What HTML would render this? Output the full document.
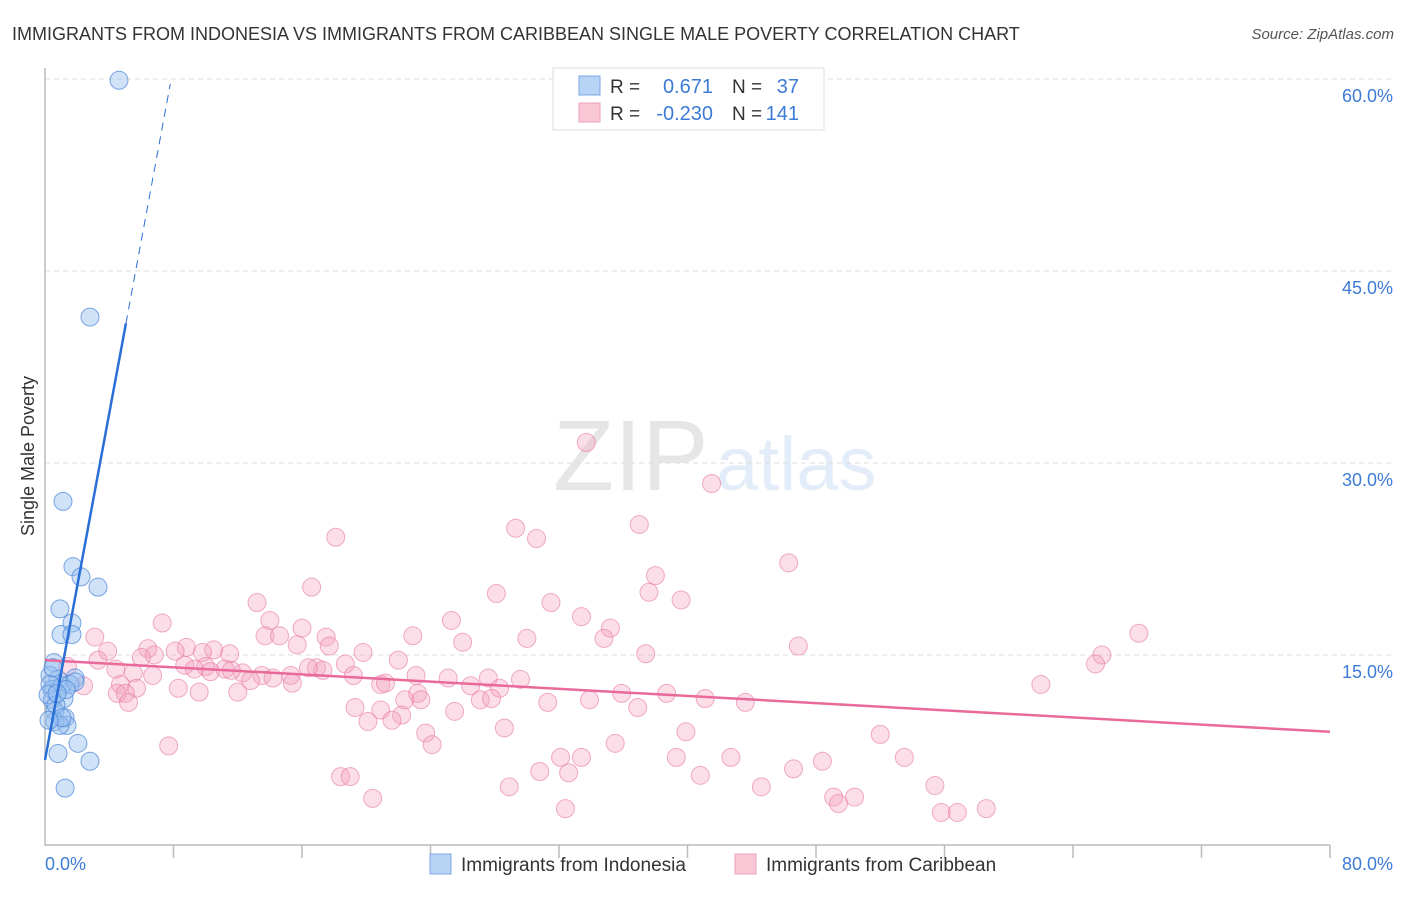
<!DOCTYPE html>
<html><head><meta charset="utf-8"><style>
body{margin:0;background:#fff;font-family:"Liberation Sans",sans-serif;}
svg text{font-family:"Liberation Sans",sans-serif;}
</style></head><body>
<svg id="chart" width="1406" height="892" xmlns="http://www.w3.org/2000/svg">
<text x="12" y="40" font-size="18" fill="#333">IMMIGRANTS FROM INDONESIA VS IMMIGRANTS FROM CARIBBEAN SINGLE MALE POVERTY CORRELATION CHART</text>
<text x="1394" y="39" font-size="15" fill="#555" font-style="italic" text-anchor="end">Source: ZipAtlas.com</text>
<g opacity="0.18">
<text x="553" y="490" font-size="100" font-family="Liberation Serif" fill="#777">ZIP</text>
<text x="716" y="490" font-size="76" fill="#6a9fe0">atlas</text>
</g>
<g id="grid"></g>
<g id="axes"></g>
<g id="pinkpts"></g>
<g id="bluepts"></g>
<g id="lines"></g>
<text transform="translate(34,456) rotate(-90)" font-size="18" fill="#333" text-anchor="middle">Single Male Poverty</text>
<text x="45" y="870" font-size="18" fill="#3d7bd6">0.0%</text>
<text x="1393" y="870" font-size="18" fill="#3d7bd6" text-anchor="end">80.0%</text>
<g>
<rect x="553" y="68" width="271" height="62" fill="#fff" stroke="#ddd"/>
<rect x="579" y="76" width="21" height="19" fill="#b9d3f5" stroke="#7aa7e6"/>
<rect x="579" y="103" width="21" height="19" fill="#f9c7d6" stroke="#eea1b9"/>
<text x="610" y="93" font-size="19" fill="#333">R =</text>
<text x="713" y="93" font-size="20" fill="#3d7bd6" text-anchor="end">0.671</text>
<text x="732" y="93" font-size="19" fill="#333">N =</text>
<text x="799" y="93" font-size="20" fill="#3d7bd6" text-anchor="end">37</text>
<text x="610" y="120" font-size="19" fill="#333">R =</text>
<text x="713" y="120" font-size="20" fill="#3d7bd6" text-anchor="end">-0.230</text>
<text x="732" y="120" font-size="19" fill="#333">N =</text>
<text x="799" y="120" font-size="20" fill="#3d7bd6" text-anchor="end">141</text>
</g>
<g>
<rect x="430" y="854" width="21" height="20" fill="#b9d3f5" stroke="#7aa7e6"/>
<text x="461" y="871" font-size="19" fill="#333">Immigrants from Indonesia</text>
</g>
<g>
<rect x="735" y="854" width="21" height="20" fill="#f9c7d6" stroke="#eea1b9"/>
<text x="766" y="871" font-size="19" fill="#333">Immigrants from Caribbean</text>
</g>
</svg>
<script>
const yTicks=[15,30,45,60];
const yTickLabels=["15.0%","30.0%","45.0%","60.0%"];
const blueX=[4.61,2.80,1.12,1.74,2.24,3.30,0.93,1.68,1.00,1.68,0.56,0.31,0.81,1.87,0.44,1.06,1.18,0.44,0.62,1.25,0.62,1.37,0.93,2.05,0.81,2.80,1.25,0.31,0.50,1.56,0.19,0.68,1.06,0.25,1.87,1.31,0.75];
const blueY=[59.9,41.4,27.0,21.9,21.1,20.3,18.6,17.5,16.6,16.6,14.4,13.4,13.1,13.2,12.3,12.6,11.6,11.5,10.6,10.1,9.8,9.5,9.5,8.1,7.3,6.7,4.6,12.7,14.0,12.7,11.9,11.1,10.1,9.9,12.9,12.3,12.0];
const pinkX=[33.7,41.5,18.1,29.3,30.6,37.0,46.3,38.0,16.6,28.1,37.6,31.5,39.6,13.2,14.0,25.3,33.4,16.0,7.3,35.2,68.1,22.9,13.7,14.6,17.5,26.0,30.0,34.8,46.9,3.1,10.5,8.8,6.4,3.9,6.8,8.1,9.8,11.5,15.7,17.7,19.8,37.4,65.8,65.4,3.3,6.0,8.7,10.0,11.2,12.3,13.5,15.3,16.9,17.3,18.7,22.0,23.1,25.1,27.6,29.6,1.4,4.4,5.5,6.7,9.3,10.3,11.6,12.8,14.2,16.4,19.2,20.9,23.2,26.5,28.3,35.9,38.7,41.1,43.6,62.0,4.7,2.4,4.5,5.7,8.3,9.6,12.0,15.4,21.2,22.4,23.4,27.1,27.8,31.3,33.9,36.9,19.3,20.9,22.2,20.1,21.6,25.5,28.6,23.7,24.1,39.9,52.0,7.7,35.5,32.1,33.4,42.7,53.5,39.3,48.4,30.8,32.6,40.8,46.6,18.4,19.0,55.4,44.6,28.9,49.1,50.4,49.4,20.4,32.4,55.8,56.8,58.6,5.0,5.2];
const pinkY=[31.6,28.4,24.2,24.9,24.1,25.2,22.2,21.2,20.3,19.8,19.9,19.1,19.3,19.1,17.7,17.7,18.0,17.1,17.5,17.1,16.7,16.5,16.5,16.5,16.4,16.0,16.3,16.3,15.7,16.4,15.4,15.6,15.5,15.3,15.0,15.3,15.2,15.1,15.8,15.7,15.2,15.1,15.0,14.3,14.6,14.8,14.2,14.1,13.9,13.6,13.4,13.4,14.0,13.8,14.3,14.6,13.4,13.2,13.2,13.1,14.1,13.9,13.6,13.4,13.9,13.7,13.8,13.0,13.2,14.0,13.4,12.7,12.0,12.6,12.4,12.0,12.0,11.6,11.3,12.7,12.7,12.6,12.0,12.4,12.4,12.1,12.1,12.8,12.8,11.5,11.5,11.5,11.6,11.3,11.5,10.9,10.9,10.7,10.3,9.8,9.9,10.6,9.3,8.9,8.0,9.0,8.8,7.9,8.1,7.0,7.0,7.0,7.0,7.0,6.7,5.9,5.8,5.6,6.1,5.5,5.5,4.8,4.7,4.7,3.9,3.9,3.4,3.8,3.0,2.7,2.7,3.0,12.0,11.3];
const blueTrend=[6.8,6.77];   // intercept, slope
const pinkTrend=[14.6,-0.07];
const NS="http://www.w3.org/2000/svg";
const X0=45,X1=1330,Y0=847,PX=(X1-X0)/80,PY=192/15;
function sx(v){return X0+v*PX;}
function sy(v){return Y0-v*PY;}
function mk(tag,attrs,parent){const e=document.createElementNS(NS,tag);for(const k in attrs)e.setAttribute(k,attrs[k]);parent.appendChild(e);return e;}
const grid=document.getElementById('grid'),axes=document.getElementById('axes');
yTicks.forEach((t,i)=>{
  const l=mk('line',{x1:X0,x2:1395,y1:sy(t),y2:sy(t),stroke:'#ddd','stroke-dasharray':'5,4'},grid);
  
  
  const tx=mk('text',{x:1393,y:sy(t)+23,'font-size':18,fill:'#3d7bd6','text-anchor':'end'},grid);
  tx.textContent=yTickLabels[i];
  
  
});
mk('line',{x1:45,x2:45,y1:68,y2:846,stroke:'#bbb','stroke-width':1.5},axes);
mk('line',{x1:45,x2:1330,y1:845,y2:845,stroke:'#bbb','stroke-width':1.5},axes);
for(let i=1;i<=10;i++){
  const t=mk('line',{x1:sx(i*8),x2:sx(i*8),y1:845,y2:858,stroke:'#bbb','stroke-width':1.5},axes);
  
  
}
const pg=document.getElementById('pinkpts');
pinkX.forEach((x,i)=>{
  const c=mk('circle',{cx:sx(x),cy:sy(pinkY[i]),r:9,fill:'rgba(244,160,188,0.35)',stroke:'rgba(232,120,160,0.6)','stroke-width':1},pg);
  
  
});
const bg=document.getElementById('bluepts');
blueX.forEach((x,i)=>{
  const c=mk('circle',{cx:sx(x),cy:sy(blueY[i]),r:9,fill:'rgba(150,190,240,0.45)',stroke:'rgba(70,130,215,0.7)','stroke-width':1},bg);
  
  
});
const lg=document.getElementById('lines');
const pl=mk('line',{x1:sx(0),y1:sy(pinkTrend[0]),x2:sx(80),y2:sy(pinkTrend[0]+pinkTrend[1]*80),stroke:'#e8699a','stroke-width':2.5},lg);


const bx=5.04,bx2=7.8;
const bl=mk('line',{x1:sx(0),y1:sy(blueTrend[0]),x2:sx(bx),y2:sy(blueTrend[0]+blueTrend[1]*bx),stroke:'#2a6fd6','stroke-width':2.5},lg);


const bd=mk('line',{x1:sx(bx),y1:sy(blueTrend[0]+blueTrend[1]*bx),x2:sx(bx2),y2:sy(blueTrend[0]+blueTrend[1]*bx2),stroke:'#2a6fd6','stroke-width':1,'stroke-dasharray':'8,6'},lg);


</script>
</body></html>
